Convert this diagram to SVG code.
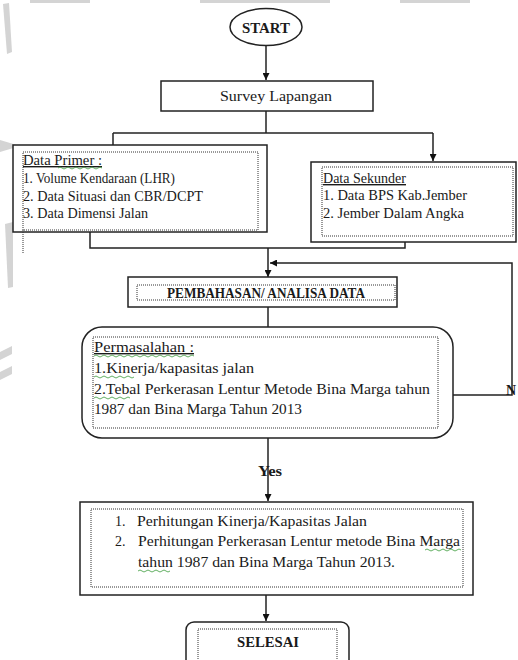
<svg xmlns="http://www.w3.org/2000/svg" width="518" height="660" viewBox="0 0 518 660">
<style>
text{font-family:"Liberation Serif","Times New Roman",serif;fill:#1a1a1a;font-size:14px}
.b{font-weight:bold}
.box{fill:#fff;stroke:#222;stroke-width:1.5}
.dot{fill:none;stroke:#333;stroke-width:1;stroke-dasharray:1,1}
.ln{fill:none;stroke:#222;stroke-width:1.5}
.sq{fill:none;stroke:#3a9a3a;stroke-width:0.8}
.wm{fill:#d4d4d4}
</style>
<defs>
<marker id="ah" viewBox="0 0 10 10" refX="10" refY="5" markerWidth="7" markerHeight="7" orient="auto" markerUnits="userSpaceOnUse">
<path d="M0,0 L10,5 L0,10 z" fill="#111"/>
</marker>
</defs>
<rect width="518" height="660" fill="#fff"/>
<g id="watermark">
<polygon class="wm" points="3,4 9,3 12,52 7,54"/>
<polygon class="wm" points="0,140 20,146 0,152"/>
<polygon class="wm" points="5,224 13,222 13,287 8,288"/>
<polygon class="wm" points="0,352 12,346 12,354 0,360"/>
<polygon class="wm" points="0,372 12,366 12,374 0,380"/>
<rect class="wm" x="30" y="0" width="60" height="3"/>
<rect class="wm" x="200" y="0" width="130" height="3"/>
<rect class="wm" x="400" y="0" width="70" height="3"/>
</g>
<g id="connectors">
<line class="ln" x1="266" y1="45" x2="266" y2="80" marker-end="url(#ah)"/>
<line class="ln" x1="266" y1="111" x2="266" y2="133"/>
<line class="ln" x1="113" y1="133" x2="433" y2="133"/>
<line class="ln" x1="113" y1="133" x2="113" y2="162" marker-end="url(#ah)"/>
<line class="ln" x1="433" y1="133" x2="433" y2="161" marker-end="url(#ah)"/>
<polyline class="ln" points="90,232 90,248 405,248 405,242"/>
<line class="ln" x1="268" y1="248" x2="268" y2="277" marker-end="url(#ah)"/>
<line class="ln" x1="268" y1="307" x2="268" y2="327"/>
<polyline class="ln" points="453,395 512,395 512,263 270,263" marker-end="url(#ah)"/>
<line class="ln" x1="268" y1="438" x2="268" y2="501" marker-end="url(#ah)"/>
<line class="ln" x1="266" y1="595" x2="266" y2="621" marker-end="url(#ah)"/>
<text class="b" x="258" y="476" textLength="24" lengthAdjust="spacingAndGlyphs">Yes</text>
<text class="b" x="506" y="395" font-size="15">N</text>
</g>
<g id="start">
<ellipse cx="266" cy="27" rx="36" ry="18.5" fill="#fff" stroke="#222" stroke-width="1.5"/>
<text class="b" x="266" y="33" text-anchor="middle" font-size="16" textLength="48" lengthAdjust="spacingAndGlyphs">START</text>
</g>
<g id="survey">
<rect class="box" x="161" y="81" width="212" height="30"/>
<text x="220" y="101" textLength="112" lengthAdjust="spacingAndGlyphs">Survey Lapangan</text>
</g>
<g id="primer">
<rect class="box" x="13" y="145" width="254" height="87"/>
<rect class="dot" x="23" y="152" width="235" height="78"/>
<line class="dot" x1="23" y1="230" x2="23" y2="253"/>
<text x="23" y="165" textLength="79" lengthAdjust="spacingAndGlyphs" text-decoration="underline">Data Primer :</text>
<path class="sq" d="M58,168 q2,-2 4,0 t4,0 t4,0 t4,0 t4,0 t4,0 t4,0 t4,0 t4,0 t4,0 t4,0"/>
<text x="23" y="183" textLength="152" lengthAdjust="spacingAndGlyphs">1. Volume Kendaraan  (LHR)</text>
<text x="23" y="201" textLength="180" lengthAdjust="spacingAndGlyphs">2. Data Situasi dan CBR/DCPT</text>
<text x="23" y="218" textLength="125" lengthAdjust="spacingAndGlyphs">3. Data Dimensi Jalan</text>
</g>
<g id="sekunder">
<rect class="box" x="311" y="162" width="205" height="80"/>
<rect class="dot" x="322" y="167" width="191" height="69"/>
<text x="323" y="183" textLength="83" lengthAdjust="spacingAndGlyphs" text-decoration="underline">Data Sekunder</text>
<text x="323" y="200" textLength="144" lengthAdjust="spacingAndGlyphs">1. Data BPS Kab.Jember</text>
<text x="323" y="218" textLength="141" lengthAdjust="spacingAndGlyphs">2. Jember Dalam  Angka</text>
</g>
<g id="pembahasan">
<rect class="box" x="128" y="277" width="269" height="30"/>
<rect class="dot" x="137" y="285" width="258" height="15"/>
<text class="b" x="167" y="298" font-size="12" textLength="198" lengthAdjust="spacingAndGlyphs">PEMBAHASAN/ ANALISA DATA</text>
</g>
<g id="permasalahan">
<rect class="box" x="82" y="327" width="371" height="111" rx="20" ry="20"/>
<rect class="dot" x="93" y="337" width="345" height="91"/>
<text x="94" y="352" textLength="100" lengthAdjust="spacingAndGlyphs" text-decoration="underline">Permasalahan :</text>
<path class="sq" d="M94,356 q2,-2 4,0 t4,0 t4,0 t4,0 t4,0 t4,0 t4,0 t4,0 t4,0 t4,0 t4,0 t4,0 t4,0 t4,0 t4,0 t4,0 t4,0 t4,0 t4,0 t4,0 t4,0 t4,0 t4,0 t4,0 t4,0"/>
<text x="94" y="373" textLength="160" lengthAdjust="spacingAndGlyphs">1.Kinerja/kapasitas jalan</text>
<path class="sq" d="M94,377 q2,-2 4,0 t4,0 t4,0 t4,0 t4,0 t4,0 t4,0 t4,0 t4,0 t4,0"/>
<text x="94" y="394" textLength="336" lengthAdjust="spacingAndGlyphs">2.Tebal Perkerasan Lentur Metode Bina Marga tahun</text>
<path class="sq" d="M94,398 q2,-2 4,0 t4,0 t4,0 t4,0 t4,0 t4,0 t4,0 t4,0 t4,0"/>
<text x="94" y="414" textLength="208" lengthAdjust="spacingAndGlyphs">1987 dan Bina Marga Tahun 2013</text>
</g>
<g id="perhitungan">
<rect class="box" x="80" y="502" width="393" height="93"/>
<rect class="dot" x="91" y="509" width="372" height="78"/>
<text x="115" y="526">1.</text>
<text x="137" y="526" textLength="230" lengthAdjust="spacingAndGlyphs">Perhitungan Kinerja/Kapasitas Jalan</text>
<text x="115" y="546">2.</text>
<text x="138" y="546" textLength="322" lengthAdjust="spacingAndGlyphs">Perhitungan Perkerasan Lentur metode Bina Marga</text>
<path class="sq" d="M425,550 q2,-2 4,0 t4,0 t4,0 t4,0 t4,0 t4,0 t4,0 t4,0 t4,0"/>
<text x="138" y="567" textLength="257" lengthAdjust="spacingAndGlyphs">tahun 1987 dan Bina Marga Tahun 2013.</text>
<path class="sq" d="M138,571 q2,-2 4,0 t4,0 t4,0 t4,0 t4,0 t4,0 t4,0 t4,0"/>
</g>
<g id="selesai">
<rect class="box" x="186" y="622" width="163" height="50" rx="8" ry="8"/>
<rect class="dot" x="198" y="629" width="139" height="40"/>
<text class="b" x="268" y="647" text-anchor="middle" font-size="15" textLength="62" lengthAdjust="spacingAndGlyphs">SELESAI</text>
</g>
</svg>
